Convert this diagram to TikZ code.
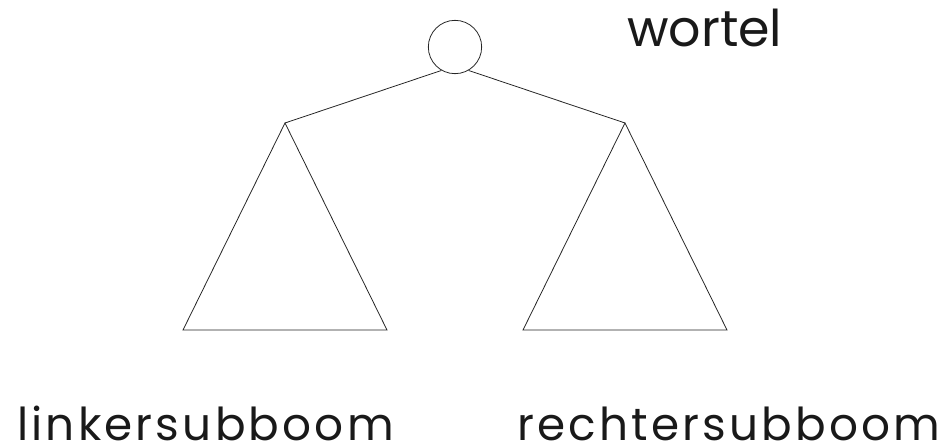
\documentclass[tikz,border=0pt]{standalone}
\usepackage{fontspec}
\setmainfont{Poppins}
\newfontfamily\spacedfont[LetterSpace=7]{Poppins}
\begin{document}
\begin{tikzpicture}[x=0.75pt,y=-0.75pt,
  line/.style={line width=0.6pt,draw=black!85},
  lbl/.style={font=\spacedfont\fontsize{34}{40}\selectfont,inner sep=0pt,anchor=base west,text=black!90}]
\useasboundingbox (0,0) rectangle (947,447);
\node[line,circle,minimum size=40pt,inner sep=0pt] (root) at (455,47) {};
\coordinate (la) at (285,123);
\coordinate (ll) at (183,330);
\coordinate (lr) at (387,330);
\coordinate (ra) at (625,123);
\coordinate (rl) at (523,330);
\coordinate (rr) at (727,330);
\draw[line] (root.240) -- (la);
\draw[line] (root.300) -- (ra);
\draw[line] (la) -- (ll) -- (lr) -- cycle;
\draw[line] (ra) -- (rl) -- (rr) -- cycle;
\node[lbl,font=\rmfamily\fontsize{38}{40}\selectfont] (wortel) at (627,46.5) {wortel};
\node[lbl] (links) at (17,440) {linkersubboom};
\node[lbl] (rechts) at (517,440) {rechtersubboom};
\end{tikzpicture}
\end{document}
